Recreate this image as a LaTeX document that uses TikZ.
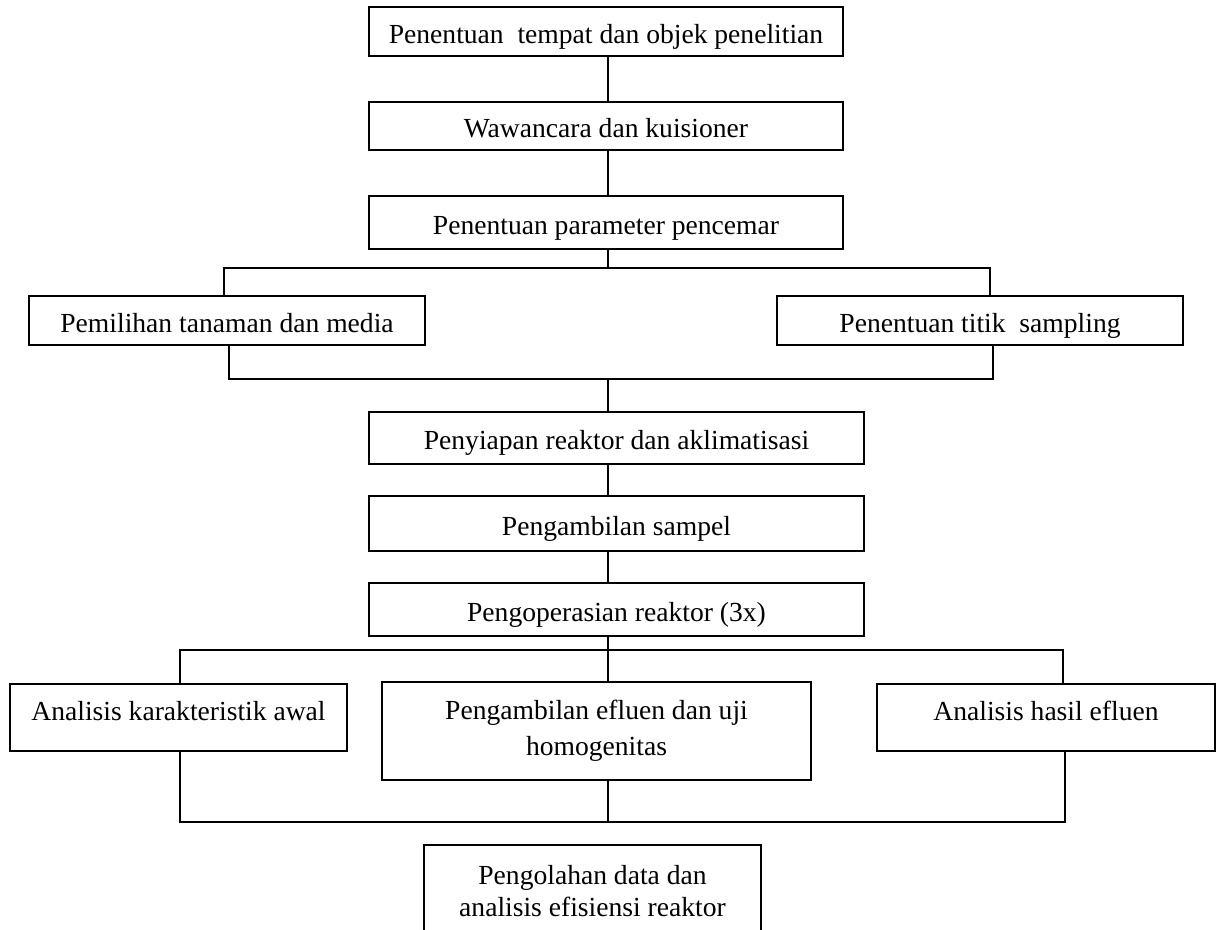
\documentclass[tikz,border=0pt]{standalone}
\usepackage{fontspec}
\setmainfont{Liberation Serif}
\tikzset{
  box/.style={draw, rectangle, line width=0.75pt, align=center, inner sep=2pt, font=\fontsize{15.7}{18.5}\selectfont},
  boxone/.style={box, text height=14.5pt, text depth=1.1pt},
  boxtop/.style={box, text height=10.5pt, text depth=7.1pt},
  link/.style={line width=0.75pt},
}
\begin{document}
\begin{tikzpicture}[x=0.02cm, y=-0.02cm]
    \useasboundingbox (0,0) rectangle (1218,930);
    \clip (0,0) rectangle (1218,930);
    % main column
    \node[boxone, minimum width=9.48cm, minimum height=0.98cm] (tempat) at (606,31.5) {Penentuan\ \ tempat dan objek penelitian};
    \node[boxone, minimum width=9.48cm, minimum height=0.96cm] (wawancara) at (606,126) {Wawancara dan kuisioner};
    \node[boxone, minimum width=9.48cm, minimum height=1.06cm] (parameter) at (606,222.5) {Penentuan parameter pencemar};
    \node[boxone, minimum width=7.92cm, minimum height=0.98cm] (tanaman) at (227,320.5) {Pemilihan tanaman dan media};
    \node[boxone, minimum width=8.12cm, minimum height=0.98cm] (titik) at (980,320.5) {Penentuan titik\ \ sampling};
    \node[boxone, minimum width=9.9cm, minimum height=1.04cm] (reaktor) at (616.5,438) {Penyiapan reaktor dan aklimatisasi};
    \node[boxone, minimum width=9.9cm, minimum height=1.1cm] (sampel) at (616.5,523.5) {Pengambilan sampel};
    \node[boxone, minimum width=9.9cm, minimum height=1.06cm] (operasi) at (616.5,609.5) {Pengoperasian reaktor (3x)};
    % analisis
    \node[boxtop, minimum width=6.74cm, minimum height=1.34cm] (awal) at (178.5,717.5) {Analisis karakteristik awal};
    \node[box, minimum width=8.58cm, minimum height=1.96cm, font=\fontsize{15.7}{20.5}\selectfont] (efluen) at (596.5,731) {Pengambilan efluen dan uji\\homogenitas};
    \node[boxtop, minimum width=6.76cm, minimum height=1.34cm] (hasil) at (1046,717.5) {Analisis hasil efluen};
    \node[box, minimum width=6.74cm, minimum height=1.84cm] (olah) at (592.5,891) {Pengolahan data dan\\analisis efisiensi reaktor};
    % junctions
    \coordinate (sp) at (608,0);
    \coordinate (ja) at (224,268);
    \coordinate (jb) at (990,268);
    \coordinate (jc) at (229,379);
    \coordinate (jd) at (993,379);
    \coordinate (je) at (180,650);
    \coordinate (jf) at (1063,650);
    \coordinate (jg) at (180,822);
    \coordinate (jh) at (1065,822);
    % connectors
    \draw[link] (sp |- tempat.south) -- (sp |- wawancara.north);
    \draw[link] (sp |- wawancara.south) -- (sp |- parameter.north);
    \draw[link] (sp |- parameter.south) -- (sp |- ja);
    \draw[link] (ja |- tanaman.north) -- (ja) -- (jb) -- (jb |- titik.north);
    \draw[link] (jc |- tanaman.south) -- (jc) -- (jd) -- (jd |- titik.south);
    \draw[link] (sp |- jc) -- (sp |- reaktor.north);
    \draw[link] (sp |- reaktor.south) -- (sp |- sampel.north);
    \draw[link] (sp |- sampel.south) -- (sp |- operasi.north);
    \draw[link] (sp |- operasi.south) -- (sp |- efluen.north);
    \draw[link] (je |- awal.north) -- (je) -- (jf) -- (jf |- hasil.north);
    \draw[link] (jg |- awal.south) -- (jg) -- (jh) -- (jh |- hasil.south);
    \draw[link] (sp |- efluen.south) -- (sp |- jg);
\end{tikzpicture}
\end{document}
